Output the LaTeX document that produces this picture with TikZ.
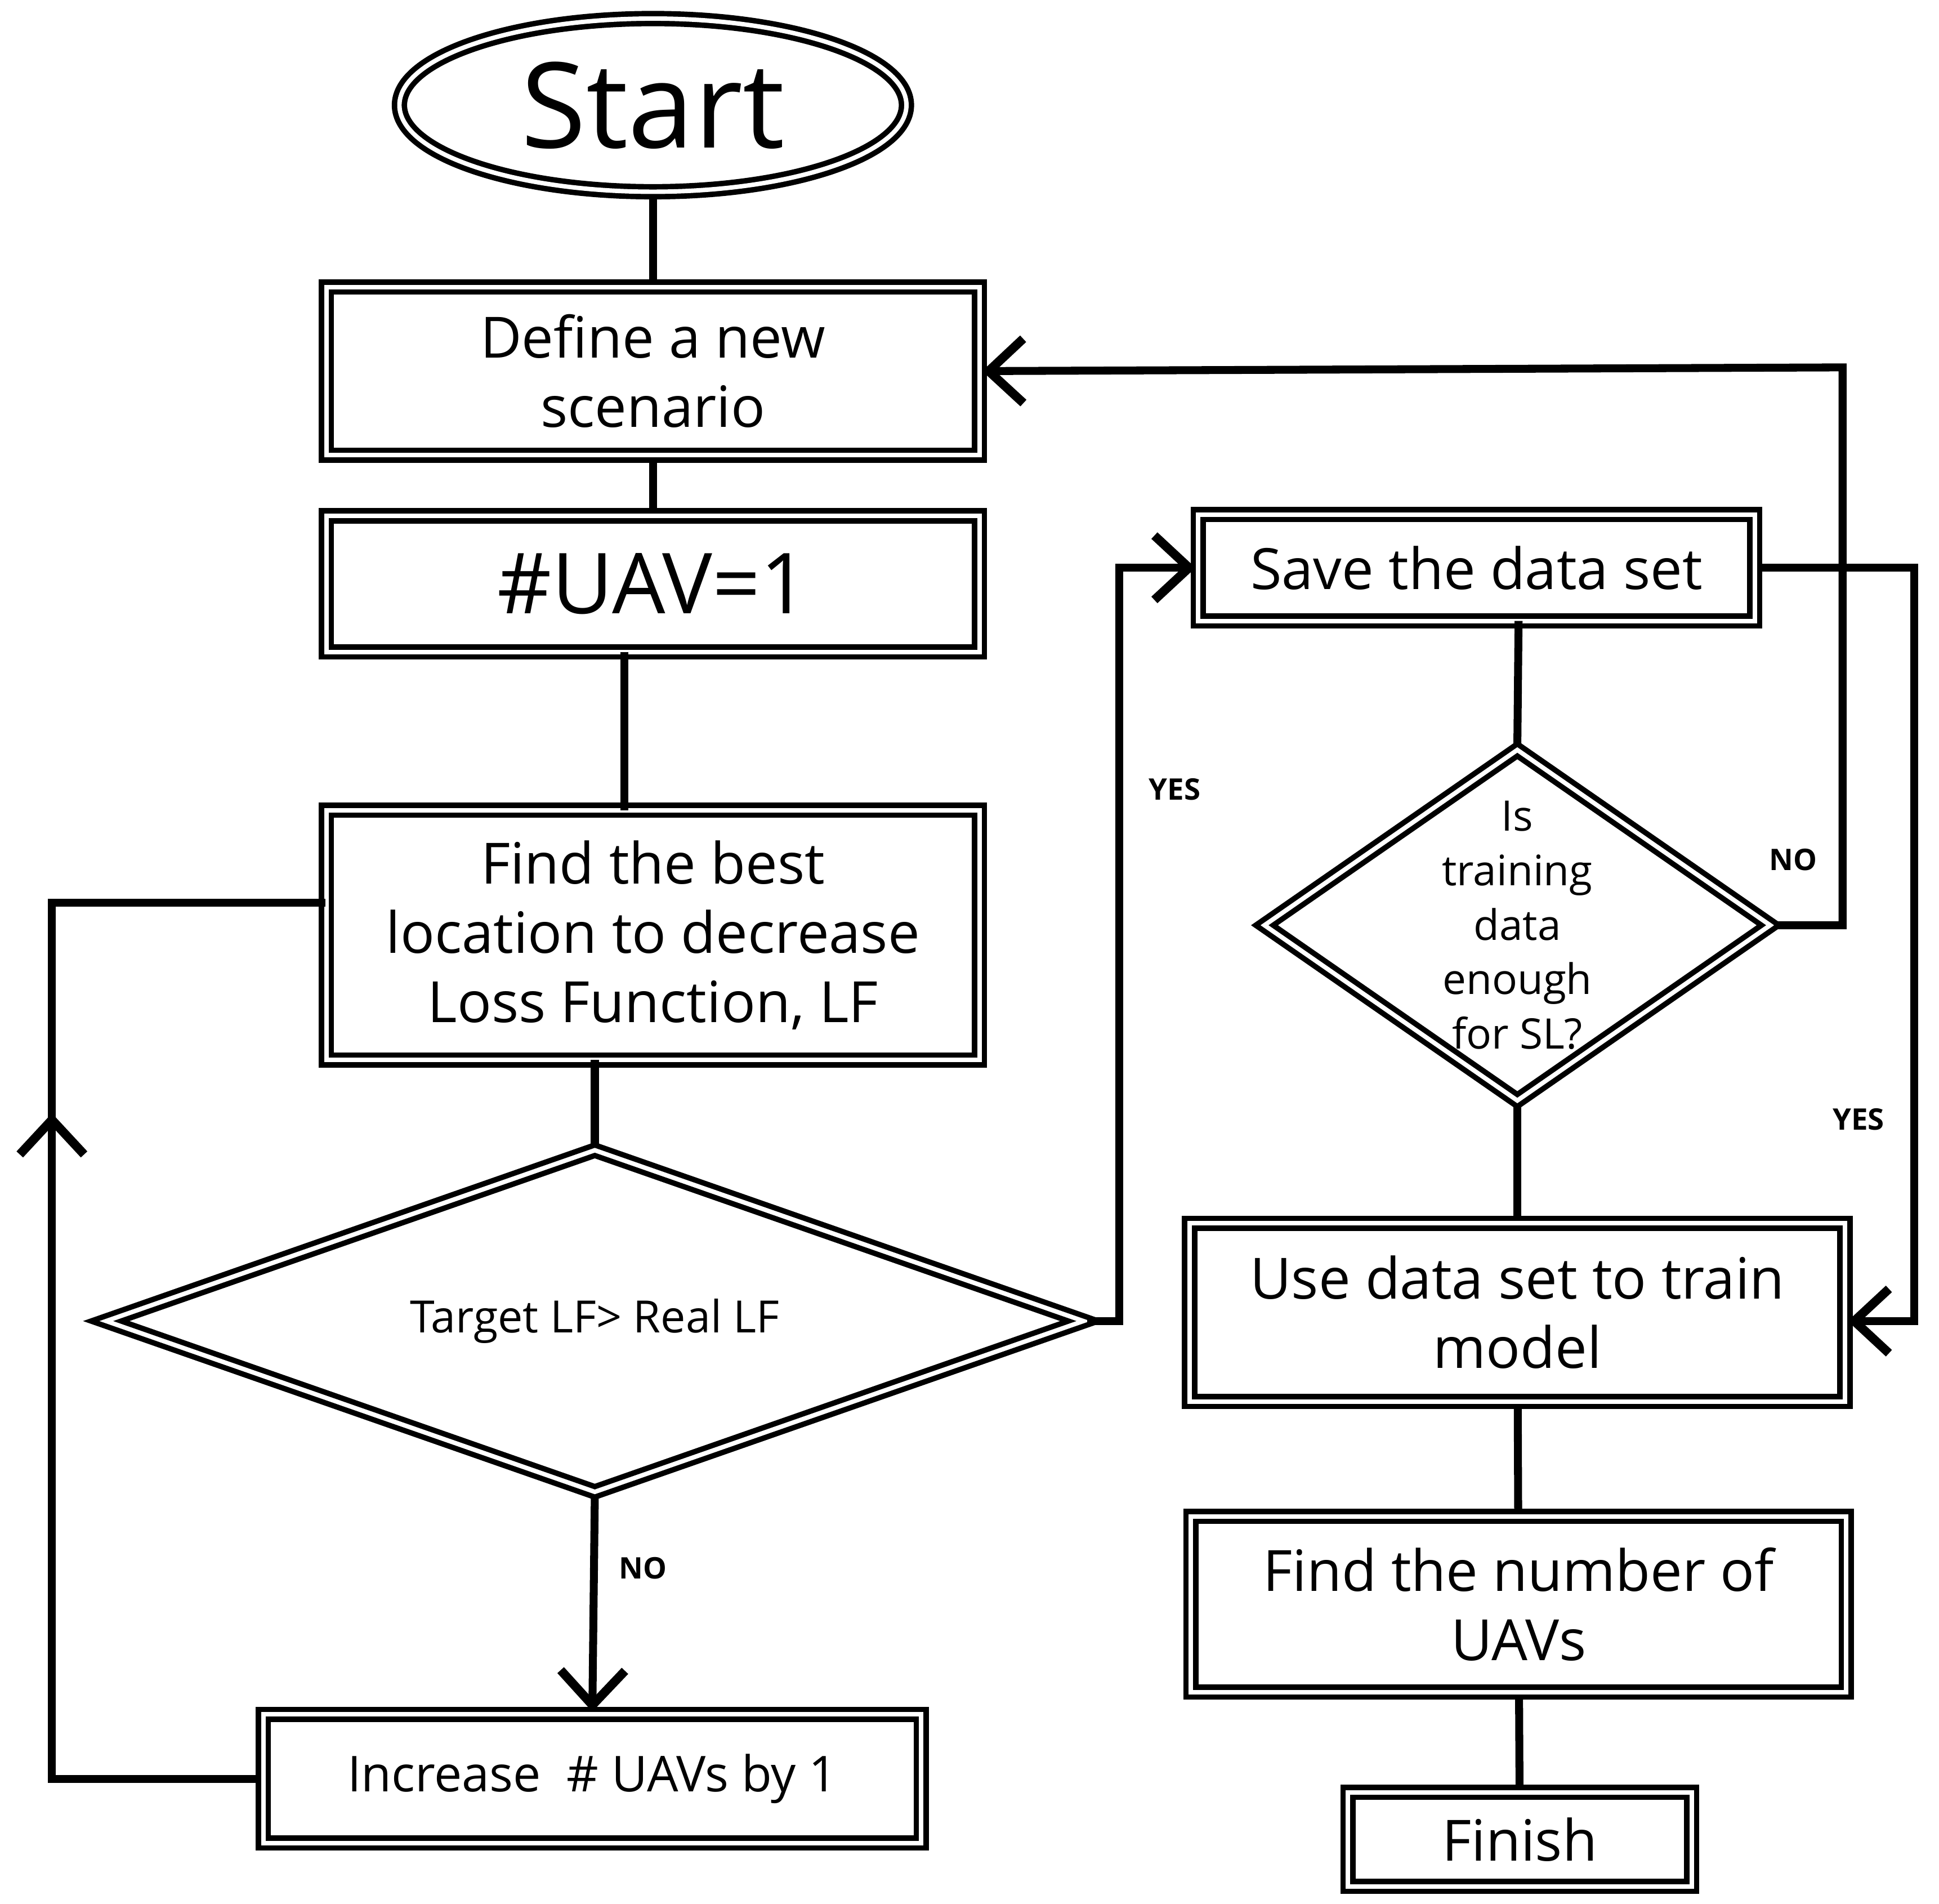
\documentclass[tikz,border=0pt]{standalone}
\usepackage{fontspec}
\setmainfont{Open Sans}
\usetikzlibrary{shapes.geometric,arrows.meta}
\begin{document}
\begin{tikzpicture}[x=0.5pt,y=-0.5pt,
 box/.style={draw,line width=2.2pt,double=white,double distance=1.8pt,align=center,inner sep=0pt,font=\fontsize{23}{28}\selectfont},
 dia/.style={diamond,draw,line width=2.2pt,double=white,double distance=1.8pt,align=center,inner sep=0pt},
 ln/.style={line width=3.2pt},
 arr/.style={ln,-{Straight Barb[length=14pt,width=26pt,line width=3.6pt]}},
 lab/.style={font=\bfseries\fontsize{12}{14}\selectfont}]
\useasboundingbox (0,0) rectangle (1568,1539);
\node[ellipse,draw,line width=2.2pt,double=white,double distance=1.8pt,minimum width=205pt,minimum height=70pt,font=\fontsize{48}{55}\selectfont] (start) at (528,85) {Start};
\node[box,minimum width=264pt,minimum height=68pt] (def) at (528,300) {Define a new\\scenario};
\node[box,minimum width=264pt,minimum height=55pt,font=\fontsize{34}{40}\selectfont] (uav) at (528,472) {\#UAV=1};
\node[box,minimum width=264pt,minimum height=101pt] (find) at (528,756) {Find the best\\location to decrease\\Loss Function, LF};
\node[dia,minimum width=396pt,minimum height=139pt,aspect=2.84,font=\fontsize{18}{22}\selectfont] (d1) at (481,1068) {Target LF> Real LF};
\node[box,minimum width=266pt,minimum height=52pt,font=\fontsize{20}{24}\selectfont] (inc) at (479,1438) {Increase~~\# UAVs by 1};
\node[box,minimum width=225pt,minimum height=43pt] (save) at (1194,459) {Save the data set};
\node[dia,minimum width=198pt,minimum height=138pt,aspect=1.44,font=\fontsize{17}{22}\selectfont] (d2) at (1227,748) {Is\\training\\data\\enough\\for SL?};
\node[box,minimum width=265pt,minimum height=72pt] (use) at (1227,1061) {Use data set to train\\model};
\node[box,minimum width=265pt,minimum height=71pt] (num) at (1228,1297) {Find the number of\\UAVs};
\node[box,minimum width=139pt,minimum height=38pt] (fin) at (1229,1487) {Finish};
\draw[ln] (start) -- (def);
\draw[ln] (def) -- (uav);
\draw[ln] (505,527) -- (505,655);
\draw[ln] (481,857) -- (d1.north);
\draw[arr] (d1.south) -- (inc.north);
\node[lab] at (520,1268) {NO};
\coordinate (l1) at (42,1438);
\coordinate (l2) at (42,730);
\draw[ln] (inc.west) -- (l1) -- (l2) -- (263,730);
\draw[arr] (l1) -- (42,900);
\coordinate (r1) at (905,1068);
\coordinate (r2) at (905,459);
\draw[arr] (d1.east) -- (r1) -- (r2) -- (save.west);
\node[lab] at (950,638) {YES};
\draw[ln] (1228,502) -- (d2.north);
\coordinate (n1) at (1490,748);
\coordinate (n2) at (1490,297);
\draw[arr] (d2.east) -- (n1) -- (n2) -- (def.east);
\node[lab] at (1450,695) {NO};
\coordinate (y1) at (1548,459);
\coordinate (y2) at (1548,1068);
\draw[arr] (save.east) -- (y1) -- (y2) -- (use.east|-y2);
\node[lab] at (1503,905) {YES};
\draw[ln] (d2.south) -- (use);
\draw[ln] (use) -- (num);
\draw[ln] (num) -- (fin);
\end{tikzpicture}
\end{document}
